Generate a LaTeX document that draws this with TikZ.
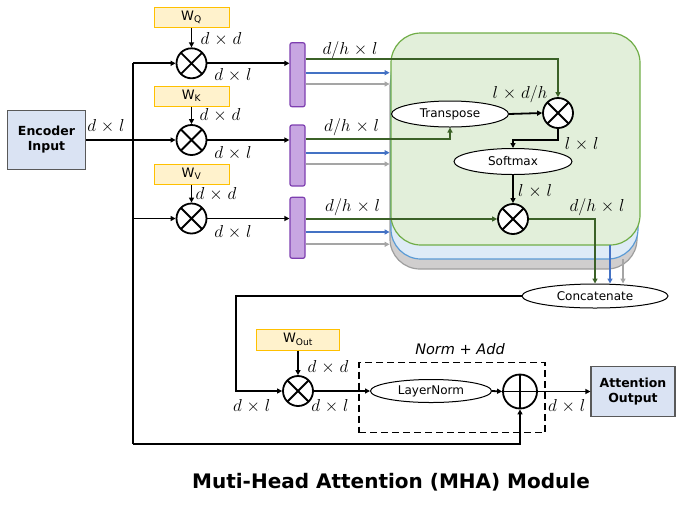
\documentclass[tikz,border=0pt]{standalone}
\usepackage{fontspec}
\setmainfont{DejaVu Sans}
\usetikzlibrary{shapes.geometric,arrows.meta}

\definecolor{wfill}{HTML}{FFF2CC}
\definecolor{wdraw}{HTML}{FFC000}
\definecolor{iofill}{HTML}{DAE3F3}
\definecolor{iodraw}{HTML}{595959}
\definecolor{barfill}{HTML}{C8A6E2}
\definecolor{bardraw}{HTML}{7E3FB0}
\definecolor{hgfill}{HTML}{E2EFDA}
\definecolor{hgdraw}{HTML}{70AD47}
\definecolor{hbfill}{HTML}{DEEBF7}
\definecolor{hbdraw}{HTML}{5B9BD5}
\definecolor{hyfill}{HTML}{D0CECE}
\definecolor{hydraw}{HTML}{9E9E9E}
\definecolor{gcol}{HTML}{3B6127}
\definecolor{bcol}{HTML}{4472C4}
\definecolor{ycol}{HTML}{A5A5A5}

% dimension label: d x l style
\newcommand{\dimx}[2]{$#1\mkern1mu\times\mkern1mu#2$}

\tikzset{
  ln/.style={line width=1.8pt, black},
  gl/.style={line width=1.8pt, gcol},
  bl/.style={line width=1.8pt, bcol},
  yl/.style={line width=1.8pt, ycol},
  arr/.style={-{Triangle[length=5pt,width=5pt]}},
  mult/.style={circle, draw, line width=1.8pt, minimum size=30pt, inner sep=0pt, fill=white,
    path picture={\draw[line width=1.8pt]
      (path picture bounding box.north west) -- (path picture bounding box.south east)
      (path picture bounding box.north east) -- (path picture bounding box.south west);}},
  addop/.style={circle, draw, line width=1.8pt, minimum size=34pt, inner sep=0pt, fill=white,
    path picture={\draw[line width=1.8pt]
      (path picture bounding box.north) -- (path picture bounding box.south)
      (path picture bounding box.west) -- (path picture bounding box.east);}},
  wbox/.style={draw=wdraw, fill=wfill, line width=1pt, minimum width=75pt, minimum height=20pt,
    inner sep=0pt, font=\fontsize{13}{14}\selectfont},
  bar/.style={draw=bardraw, fill=barfill, line width=1.2pt, rounded corners=2pt,
    minimum width=15pt, inner sep=0pt},
  oval/.style={ellipse, draw, line width=1pt, fill=white, inner sep=0pt,
    font=\fontsize{12}{14}\selectfont},
  io/.style={draw=iodraw, fill=iofill, line width=1.2pt, align=center, inner sep=0pt,
    font=\bfseries\fontsize{12.5}{15}\selectfont},
  dim/.style={inner sep=0pt, font=\fontsize{16}{17}\selectfont},
  head/.style={line width=1.2pt, rounded corners=30pt, minimum height=212pt, inner sep=0pt},
}

\begin{document}
\begin{tikzpicture}[x=1pt, y=-1pt]
\useasboundingbox (0,0) rectangle (676,504);

% stacked attention heads
\node[head, draw=hydraw, fill=hyfill, minimum width=247pt] (hy) at (513.5,163) {};
\node[head, draw=hbdraw, fill=hbfill, minimum width=247pt] (hb) at (514.5,153) {};
\node[head, draw=hgdraw, fill=hgfill, minimum width=249pt] (hg) at (515.5,139) {};

% input and output
\node[io, minimum width=78pt, minimum height=59pt] (enc) at (46.5,140) {Encoder\\Input};
\node[io, minimum width=84pt, minimum height=50pt] (out) at (633,391.5) {Attention\\Output};

% projection weights and products
\node[wbox] (wq) at (191.5,17.3) {W\textsubscript{Q}};
\node[wbox] (wk) at (191.5,96) {W\textsubscript{K}};
\node[wbox] (wv) at (191.5,174) {W\textsubscript{V}};
\node[mult] (mq) at (191.5,63.3) {};
\node[mult] (mk) at (191.5,140) {};
\node[mult] (mv) at (191.5,218.5) {};

% head splitters
\node[bar, minimum height=64pt] (b1) at (297.5,74.7) {};
\node[bar, minimum height=61pt] (b2) at (297.5,155.5) {};
\node[bar, minimum height=61pt] (b3) at (297.5,227.8) {};

% inside one head
\node[mult] (m1) at (558,113) {};
\node[oval, minimum width=117pt, minimum height=26pt] (tr) at (450,114) {Transpose};
\node[oval, minimum width=118pt, minimum height=26pt] (sm) at (513,161.5) {Softmax};
\node[mult] (m2) at (513,219) {};

% merge, output projection, residual
\node[oval, minimum width=146pt, minimum height=24pt] (cat) at (595,296) {Concatenate};
\node[wbox, minimum width=83pt, minimum height=21pt] (wo) at (298,339.5) {W\textsubscript{Out}};
\node[mult] (mo) at (298,391) {};
\node[draw, line width=1.8pt, dash pattern=on 7pt off 4pt, minimum width=186pt,
      minimum height=70pt, inner sep=0pt] (na) at (452,397.5) {};
\node[inner sep=0pt, font=\itshape\fontsize{14.5}{16}\selectfont] (nalabel) at (460,349) {Norm + Add};
\node[oval, minimum width=121pt, minimum height=23pt] (lnorm) at (431,391) {LayerNorm};
\node[addop] (add) at (520,391.5) {};

% input bus
\coordinate (bt) at (133,63.3);
\coordinate (bb) at (133,444);
\draw[ln] (bt) -- (bb);
\draw[ln,arr] (bt) -- (mq.west);
\draw[ln,arr] (enc.east) -- (mk.west);
\draw[ln,arr] (bt |- mv.west) -- (mv.west);
\draw[ln,arr] (bb) -| (add.south);

% weights into products, products into splitters
\draw[ln,arr] (wq.south) -- (mq.north);
\draw[ln,arr] (wk.south) -- (mk.north);
\draw[ln,arr] (wv.south) -- (mv.north);
\draw[ln,arr] (mq.east) -- (mq.east -| b1.west);
\draw[ln,arr] (mk.east) -- (mk.east -| b2.west);
\draw[ln,arr] (mv.east) -- (mv.east -| b3.west);

% per-head streams
\draw[gl,arr] ([yshift=15.4pt]b1.east) -| (m1.north);
\draw[bl,arr] ([yshift=2pt]b1.east) -- ++(84,0);
\draw[yl,arr] ([yshift=-9.3pt]b1.east) -- ++(84,0);
\draw[gl,arr] ([yshift=16.5pt]b2.east) -| (tr.south);
\draw[bl,arr] ([yshift=2.8pt]b2.east) -- ++(84,0);
\draw[yl,arr] ([yshift=-8.5pt]b2.east) -- ++(84,0);
\draw[gl,arr] ([yshift=8.8pt]b3.east) -- (m2.west);
\draw[bl,arr] ([yshift=-4.2pt]b3.east) -- ++(84,0);
\draw[yl,arr] ([yshift=-16.5pt]b3.east) -- ++(84,0);

% attention inside the head
\draw[ln,arr] (tr.east) -- (m1.west);
\draw[ln,arr] (m1.south) -- ++(0,11) -| (sm.north);
\draw[ln,arr] (sm.south) -- (m2.north);
\draw[gl,arr] (m2.east) -| (cat.north);
\coordinate (bd) at (610,245);
\coordinate (yd) at (623,259);
\draw[bl,arr] (bd) -- (bd |- cat.north);
\draw[yl,arr] (yd) -- (yd |- cat.north);

% output path
\coordinate (turn) at (236,391);
\draw[ln,arr] (cat.west) -| (turn) -- (mo.west);
\draw[ln,arr] (wo.south) -- (mo.north);
\draw[ln,arr] (mo.east) -- (lnorm.west);
\draw[ln,arr] (lnorm.east) -- (add.west);
\draw[ln,arr] (add.east) -- (out.west);

% dimensions
\node[dim] at (106,126.7) {\dimx{d}{l}};
\node[dim] at (221,39.3) {\dimx{d}{d}};
\node[dim] at (233,75) {\dimx{d}{l}};
\node[dim] at (220,115.7) {\dimx{d}{d}};
\node[dim] at (233,153.3) {\dimx{d}{l}};
\node[dim] at (216,194.3) {\dimx{d}{d}};
\node[dim] at (233,232.3) {\dimx{d}{l}};
\node[dim] at (350,50) {\dimx{d/h}{l}};
\node[dim] at (351.7,126.7) {\dimx{d/h}{l}};
\node[dim] at (352.7,207.3) {\dimx{d/h}{l}};
\node[dim] at (520,94) {\dimx{l}{d/h}};
\node[dim] at (581.7,144) {\dimx{l}{l}};
\node[dim] at (535,191) {\dimx{l}{l}};
\node[dim] at (597,207) {\dimx{d/h}{l}};
\node[dim] at (328,367.7) {\dimx{d}{d}};
\node[dim] at (251.7,406.7) {\dimx{d}{l}};
\node[dim] at (330,406.7) {\dimx{d}{l}};
\node[dim] at (566.7,406.7) {\dimx{d}{l}};

% caption
\node[inner sep=0pt, font=\bfseries\fontsize{20}{22}\selectfont] (title) at (391,482)
  {Muti-Head Attention (MHA) Module};
\end{tikzpicture}
\end{document}
